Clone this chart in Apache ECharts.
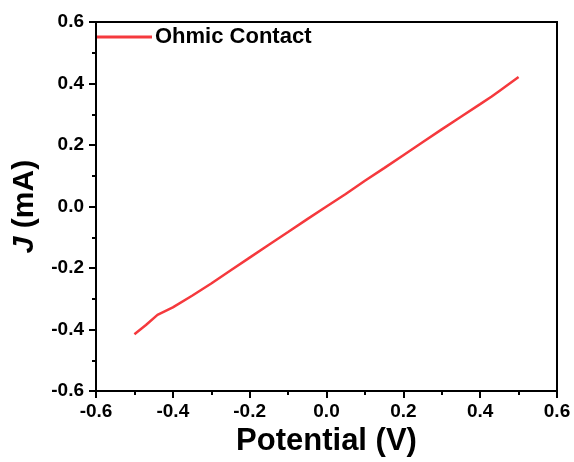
<!DOCTYPE html>
<html>
<head>
<meta charset="utf-8">
<script src="https://cdn.jsdelivr.net/npm/echarts@6/dist/echarts.min.js"></script>
<style>
  html, body { margin: 0; padding: 0; background: #fff; }
  #chart { width: 574px; height: 462px; }
</style>
</head>
<body>
<div id="chart"></div>
<script>
// potential (V) and current density J (mA)
const potential = [-0.5, -0.47, -0.44, -0.42, -0.4, -0.35, -0.3, -0.25, -0.2, -0.15, -0.1, -0.05, 0,
  0.05, 0.1, 0.15, 0.2, 0.25, 0.3, 0.35, 0.4, 0.43, 0.45, 0.5]
const current = [-0.415, -0.385, -0.352, -0.34, -0.328, -0.29, -0.25, -0.208, -0.166, -0.124, -0.083, -0.041, 0,
  0.041, 0.084, 0.125, 0.167, 0.209, 0.251, 0.292, 0.333, 0.358, 0.376, 0.421]
const seriesName = 'Ohmic Contact'

const font = 'Liberation Sans, Arial, sans-serif'
const chart = echarts.init(document.getElementById('chart'))

const axisCommon = {
  type: 'value',
  min: -0.6,
  max: 0.6,
  interval: 0.2,
  splitLine: { show: false },
  axisLine: { onZero: false, lineStyle: { color: '#000', width: 2 } },
  axisTick: { length: 7, lineStyle: { color: '#000', width: 2 } },
  minorTick: { show: true, splitNumber: 2, length: 4, lineStyle: { color: '#000', width: 2 } },
  axisLabel: {
    color: '#000',
    fontFamily: font,
    fontWeight: 'bold',
    fontSize: 19,
    formatter: v => v.toFixed(1)
  },
  nameLocation: 'middle'
}

chart.setOption({
  animation: false,
  grid: {
    left: 96,
    right: 17,
    top: 22,
    bottom: 69,
    show: true,
    borderColor: '#000',
    borderWidth: 2
  },
  legend: {
    left: 97,
    top: 26,
    padding: 0,
    itemWidth: 55,
    itemHeight: 3,
    itemGap: 0,
    icon: 'rect',
    textStyle: { color: '#000', fontFamily: font, fontWeight: 'bold', fontSize: 22, padding: [0, 0, 0, -2] },
    data: [seriesName]
  },
  xAxis: Object.assign({}, axisCommon, {
    name: 'Potential (V)',
    nameGap: 30,
    axisLabel: Object.assign({}, axisCommon.axisLabel, { margin: 11 }),
    nameTextStyle: { color: '#000', fontFamily: font, fontWeight: 'bold', fontSize: 31 }
  }),
  yAxis: Object.assign({}, axisCommon, {
    name: '{i|J} (mA)',
    nameGap: 56,
    nameRotate: 90,
    axisLabel: Object.assign({}, axisCommon.axisLabel, { margin: 12 }),
    nameTextStyle: {
      color: '#000', fontFamily: font, fontWeight: 'bold', fontSize: 30,
      rich: { i: { fontStyle: 'italic', fontWeight: 'bold', fontSize: 30, fontFamily: font, color: '#000' } }
    }
  }),
  series: [{
    name: seriesName,
    type: 'line',
    data: potential.map((x, i) => [x, current[i]]),
    showSymbol: false,
    lineStyle: { color: '#f5393d', width: 2.5 },
    itemStyle: { color: '#f5393d' }
  }]
})
</script>
</body>
</html>
